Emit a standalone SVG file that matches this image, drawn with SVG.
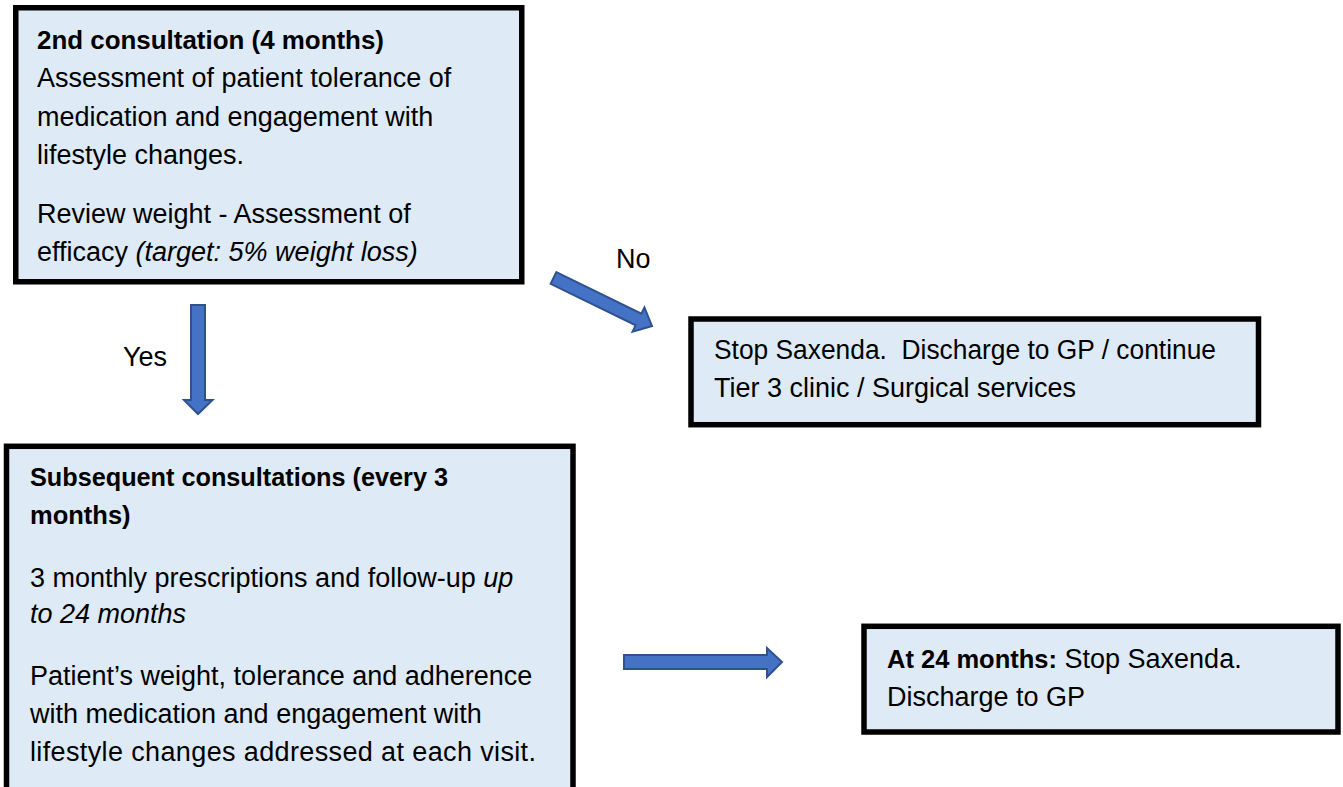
<svg xmlns="http://www.w3.org/2000/svg" width="1343" height="787" viewBox="0 0 1343 787">
<style>
.box{fill:#DEEAF6;stroke:#000;stroke-width:5.5}
.t{font-family:"Liberation Sans",Arial,sans-serif;font-size:27px;fill:#000}
.b{font-weight:bold;font-size:25.5px}
.i{font-style:italic}
.arr{fill:#4472C4;stroke:#2F528F;stroke-width:2;stroke-linejoin:miter}
</style>
<rect width="1343" height="787" fill="#fff"/>
<g id="connectors">
<polygon class="arr" points="191,305 205,305 205,400 212.5,400 198,414 184,400 191,400"/>
<polygon class="arr" transform="translate(553.5,278) rotate(26)" points="0,-6.5 94.6,-6.5 94.6,-13.5 109.6,0 94.6,13.5 94.6,6.5 0,6.5"/>
<polygon class="arr" points="624,655 767,655 767,648 782,662 767,677 767,669 624,669"/>
<text class="t" x="616" y="268">No</text>
<text class="t" x="123" y="366">Yes</text>
</g>
<g id="node-second-consultation">
<rect class="box" x="15.75" y="7.75" width="506" height="274"/>
<text class="t b" x="37" y="49" textLength="347" lengthAdjust="spacingAndGlyphs">2nd consultation (4 months)</text>
<text class="t" x="37" y="87">Assessment of patient tolerance of</text>
<text class="t" x="37" y="125.5">medication and engagement with</text>
<text class="t" x="37" y="164">lifestyle changes.</text>
<text class="t" x="37" y="222.5">Review weight - Assessment of</text>
<text class="t" x="37" y="261">efficacy <tspan class="i">(target: 5% weight loss)</tspan></text>
</g>
<g id="node-stop">
<rect class="box" x="691" y="319" width="567.5" height="105.7"/>
<text class="t" x="714" y="359" textLength="502" lengthAdjust="spacingAndGlyphs">Stop Saxenda.&#160; Discharge to GP / continue</text>
<text class="t" x="714" y="397">Tier 3 clinic / Surgical services</text>
</g>
<g id="node-subsequent">
<rect class="box" x="6.5" y="446.3" width="566.5" height="345"/>
<text class="t b" x="30" y="486" textLength="418" lengthAdjust="spacingAndGlyphs">Subsequent consultations (every 3</text>
<text class="t b" x="30" y="524">months)</text>
<text class="t" x="30" y="587">3 monthly prescriptions and follow-up <tspan class="i">up</tspan></text>
<text class="t i" x="30" y="623">to 24 months</text>
<text class="t" x="30" y="685">Patient’s weight, tolerance and adherence</text>
<text class="t" x="30" y="723">with medication and engagement with</text>
<text class="t" x="30" y="761" textLength="506" lengthAdjust="spacing">lifestyle changes addressed at each visit.</text>
</g>
<g id="node-24-months">
<rect class="box" x="864" y="626.3" width="474" height="105.7"/>
<text class="t" x="887" y="668"><tspan class="b">At 24 months:</tspan> Stop Saxenda.</text>
<text class="t" x="887" y="706">Discharge to GP</text>
</g>
</svg>
